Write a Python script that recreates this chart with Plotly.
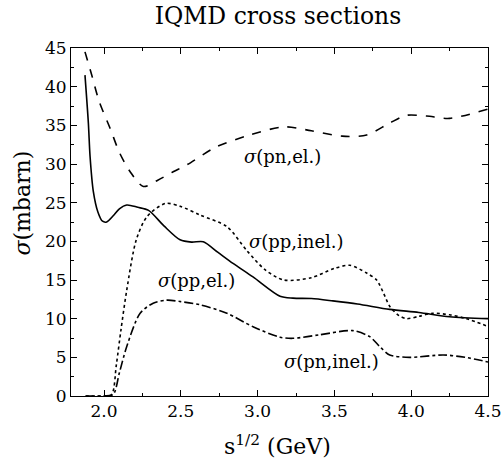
import plotly.graph_objects as go

# sqrt(s) in GeV, cross sections in mbarn
pn_el_x = [1.876, 1.92, 1.97, 2.04, 2.10, 2.17, 2.256, 2.35, 2.45, 2.54, 2.73, 2.95, 3.17, 3.35, 3.55, 3.71, 3.86, 3.97, 4.10, 4.25, 4.5]
pn_el_y = [44.5, 41.5, 38.0, 34.6, 31.5, 29.0, 27.1, 27.9, 29.0, 29.9, 32.2, 33.75, 34.8, 34.3, 33.6, 33.75, 35.3, 36.3, 36.2, 35.9, 37.1]

pp_el_x = [1.876, 1.898, 1.909, 1.93, 1.96, 1.99, 2.017, 2.06, 2.10, 2.148, 2.22, 2.29, 2.39, 2.495, 2.57, 2.646, 2.74, 2.84, 2.97, 3.146, 3.23, 3.35, 3.49, 3.65, 3.86, 4.05, 4.25, 4.5]
pp_el_y = [41.5, 35.3, 31.0, 26.5, 23.8, 22.6, 22.5, 23.3, 24.2, 24.7, 24.4, 24.0, 22.0, 20.2, 19.9, 19.95, 18.6, 17.15, 15.4, 12.9, 12.65, 12.6, 12.3, 11.9, 11.2, 10.8, 10.25, 10.0]

pp_inel_x = [1.88, 2.0, 2.05, 2.08, 2.11, 2.148, 2.21, 2.28, 2.40, 2.50, 2.625, 2.8, 2.93, 3.05, 3.17, 3.35, 3.5, 3.6, 3.71, 3.775, 3.82, 3.86, 3.92, 3.97, 4.05, 4.14, 4.25, 4.36, 4.5]
pp_inel_y = [0, 0, 0.2, 4.0, 8.5, 13.7, 20.2, 23.2, 24.9, 24.5, 23.4, 21.9, 18.8, 16.3, 15.0, 15.3, 16.5, 16.9, 15.9, 15.0, 13.3, 11.6, 10.4, 10.0, 10.3, 10.7, 10.5, 10.0, 9.0]

pn_inel_x = [1.88, 2.0, 2.06, 2.10, 2.148, 2.235, 2.32, 2.41, 2.5, 2.625, 2.8, 2.97, 3.146, 3.23, 3.4, 3.62, 3.73, 3.80, 3.86, 3.99, 4.21, 4.35, 4.5]
pn_inel_y = [0, 0, 0.2, 3.0, 6.4, 10.7, 12.0, 12.4, 12.2, 11.8, 10.7, 8.96, 7.6, 7.46, 7.9, 8.45, 7.67, 6.3, 5.3, 5.0, 5.3, 5.0, 4.4]

labels = ["<i>σ</i>(pn,el.)", "<i>σ</i>(pp,inel.)", "<i>σ</i>(pp,el.)", "<i>σ</i>(pn,inel.)"]
label_x = [3.165, 3.255, 2.603, 3.482]
label_y = [31.0, 20.0, 14.9, 4.5]

FONT = "DejaVu Serif"

fig = go.Figure()
series = [
    (pn_el_x, pn_el_y, "dash"),
    (pp_el_x, pp_el_y, "solid"),
    (pp_inel_x, pp_inel_y, "dot"),
    (pn_inel_x, pn_inel_y, "dashdot"),
]
for xs, ys, dash in series:
    fig.add_trace(go.Scatter(x=xs, y=ys, mode="lines",
                             line=dict(color="black", width=1.6, dash=dash, shape="spline", smoothing=0.8),
                             showlegend=False, hoverinfo="skip"))

for t, x, y in zip(labels, label_x, label_y):
    fig.add_annotation(x=x, y=y, text=t, showarrow=False,
                       font=dict(family=FONT, size=18, color="black"))

# axis titles as paper annotations
fig.add_annotation(xref="paper", yref="paper", x=-0.115, y=0.553, text="<i>σ</i>(mbarn)",
                   xanchor="center", yanchor="middle",
                   textangle=-90, showarrow=False, font=dict(family=FONT, size=22, color="black"))
fig.add_annotation(xref="paper", yref="paper", x=0.496, y=-0.141, text="s<sup>1/2</sup> (GeV)",
                   xanchor="center", yanchor="middle",
                   showarrow=False, font=dict(family=FONT, size=22, color="black"))

axis_common = dict(
    showgrid=False, zeroline=False, showline=True, linecolor="black", linewidth=1,
    mirror="allticks", ticks="inside", ticklen=6, tickcolor="black", automargin=False,
    tickfont=dict(family=FONT, size=17, color="black"),
)
fig.update_xaxes(range=[1.785, 4.5], dtick=0.5, tick0=2.0, tickformat=".1f",
                 minor=dict(ticks="inside", ticklen=3, dtick=0.25, tick0=2.0, tickcolor="black"),
                 **axis_common)
fig.update_yaxes(range=[0, 45], dtick=5,
                 minor=dict(ticks="inside", ticklen=3, dtick=2.5, tickcolor="black"),
                 **axis_common)

fig.update_layout(
    width=504, height=468,
    margin=dict(l=71, r=16, t=48, b=72),
    paper_bgcolor="white", plot_bgcolor="white",
    title=dict(text="IQMD cross sections", x=0.5516, xanchor="center", y=0.966, yanchor="middle",
               font=dict(family=FONT, size=23.5, color="black")),
)

# remove the browser's default 8px body margin so the figure fills the window
fig.write_html("out.html", config={"displayModeBar": False},
               post_script="document.body.style.margin='0';")
